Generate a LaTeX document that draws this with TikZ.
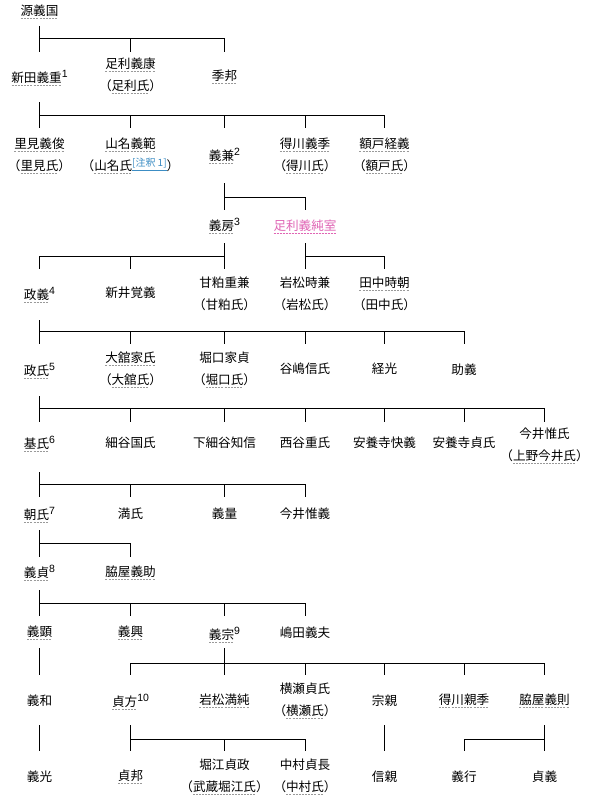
\documentclass[tikz,border=0pt]{standalone}
\usepackage{fontspec}
\setmainfont{Noto Sans CJK JP}
\newfontfamily\supfont{Liberation Sans}
\definecolor{ulg}{HTML}{9A9A9A}
\definecolor{pinkc}{HTML}{E065B5}
\definecolor{linkc}{HTML}{3C8DC4}
\newsavebox\ulbox
\newcommand\ul[2][ulg]{\sbox\ulbox{#2}\leavevmode\rlap{\usebox\ulbox}\raisebox{-3.2pt}{\color{#1}\hbox to \wd\ulbox{\xleaders\hbox to 3pt{\rule{2pt}{0.7pt}\hfil}\hfill}}}
\newcommand\sps[1]{\smash{\raisebox{5pt}{\fontsize{10.5}{10.5}\selectfont\supfont #1}}}
\newcommand\note[1]{\smash{\raisebox{3.5pt}{\fontsize{10}{10}\selectfont\color{linkc}\underline{#1}}}}
\newcommand\famline[7]{%
  \draw[conn] (#1 |- 0,#2) -- (#1 |- 0,#3) (#5 |- 0,#3) -- (#6 |- 0,#3);
  \foreach \cc in {#7}{\draw[conn] (\cc |- 0,#3) -- (\cc |- 0,#4);}}
\begin{document}
\begin{tikzpicture}[x=1pt,y=-1pt,
  nm/.style={inner sep=0pt, align=center, font=\fontsize{12.6}{22}\selectfont},
  conn/.style={draw=black, line width=1pt}]
\useasboundingbox[fill=white] (0,0) rectangle (597,800);
\def\ca{39.5}\def\cb{130.5}\def\cc{224.5}\def\cd{305}\def\ce{384.5}\def\cf{464}\def\cg{544.5}
% row 0
\node[nm] (n00) at (\ca,12) {\ul{源義国}};
% row 1
\node[nm] (n10) at (\ca,79) {\ul{新田義重}\sps{1}};
\node[nm] (n11) at (\cb,76) {\ul{足利義康}\\（\ul{足利氏}）};
\node[nm] (n12) at (\cc,77) {\ul{季邦}};
% row 2
\node[nm] (n20) at (\ca,155.5) {\ul{里見義俊}\\（\ul{里見氏}）};
\node[nm] (n21) at (\cb,155.5) {\ul{山名義範}\\（\ul{山名氏}\note{[注釈 1]}）};
\node[nm] (n22) at (\cc,157) {\ul{義兼}\sps{2}};
\node[nm] (n23) at (\cd,155.5) {\ul{得川義季}\\（\ul{得川氏}）};
\node[nm] (n24) at (\ce,155.5) {\ul{額戸経義}\\（\ul{額戸氏}）};
% row 3
\node[nm] (n30) at (\cc,227) {\ul{義房}\sps{3}};
\node[nm, text=pinkc] (n31) at (\cd,227) {\ul[pinkc]{足利義純室}};
% row 4
\node[nm] (n40) at (\ca,296) {\ul{政義}\sps{4}};
\node[nm] (n41) at (\cb,293) {新井覚義};
\node[nm] (n42) at (\cc,294) {甘粕重兼\\（甘粕氏）};
\node[nm] (n43) at (\cd,294) {岩松時兼\\（岩松氏）};
\node[nm] (n44) at (\ce,294) {\ul{田中時朝}\\（田中氏）};
% row 5
\node[nm] (n50) at (\ca,372) {\ul{政氏}\sps{5}};
\node[nm] (n51) at (\cb,370) {\ul{大舘家氏}\\（\ul{大舘氏}）};
\node[nm] (n52) at (\cc,370) {堀口家貞\\（\ul{堀口氏}）};
\node[nm] (n53) at (\cd,369) {谷嶋信氏};
\node[nm] (n54) at (\ce,369) {経光};
\node[nm] (n55) at (\cf,370) {助義};
% row 6
\node[nm] (n60) at (\ca,445) {\ul{基氏}\sps{6}};
\node[nm] (n61) at (\cb,443) {細谷国氏};
\node[nm] (n62) at (\cc,443) {下細谷知信};
\node[nm] (n63) at (\cd,443) {西谷重氏};
\node[nm] (n64) at (\ce,443) {安養寺快義};
\node[nm] (n65) at (\cf,443) {安養寺貞氏};
\node[nm] (n66) at (\cg,446) {今井惟氏\\（\ul{上野今井氏}）};
% row 7
\node[nm] (n70) at (\ca,516) {\ul{朝氏}\sps{7}};
\node[nm] (n71) at (\cb,514) {満氏};
\node[nm] (n72) at (\cc,514) {義量};
\node[nm] (n73) at (\cd,514) {今井惟義};
% row 8
\node[nm] (n80) at (\ca,574) {\ul{義貞}\sps{8}};
\node[nm] (n81) at (\cb,573) {\ul{脇屋義助}};
% row 9
\node[nm] (n90) at (\ca,633) {\ul{義顕}};
\node[nm] (n91) at (\cb,633) {\ul{義興}};
\node[nm] (n92) at (\cc,636) {\ul{義宗}\sps{9}};
\node[nm] (n93) at (\cd,633) {嶋田義夫};
% row 10
\node[nm] (m0) at (\ca,701) {義和};
\node[nm] (m1) at (\cb,703) {\ul{貞方}\sps{10}};
\node[nm] (m2) at (\cc,701) {\ul{岩松満純}};
\node[nm] (m3) at (\cd,700.5) {横瀬貞氏\\（\ul{横瀬氏}）};
\node[nm] (m4) at (\ce,701) {宗親};
\node[nm] (m5) at (\cf,701) {\ul{得川親季}};
\node[nm] (m6) at (\cg,701) {\ul{脇屋義則}};
% row 11
\node[nm] (k0) at (\ca,777) {義光};
\node[nm] (k1) at (\cb,777) {\ul{貞邦}};
\node[nm] (k2) at (\cc,777) {堀江貞政\\（\ul{武蔵堀江氏}）};
\node[nm] (k3) at (\cd,777) {中村貞長\\（\ul{中村氏}）};
\node[nm] (k4) at (\ce,777) {信親};
\node[nm] (k5) at (\cf,777) {義行};
\node[nm] (k6) at (\cg,777) {貞義};
% connectors
\famline{n00}{26}{39}{52}{n10}{n12}{n10,n11,n12}
\famline{n10}{102}{115}{128}{n20}{n24}{n20,n21,n22,n23,n24}
\famline{n22}{183}{197}{210}{n30}{n31}{n30,n31}
\famline{n30}{243}{256}{269}{n40}{n42}{n40,n41,n42}
\famline{n31}{243}{256}{269}{n43}{n44}{n43,n44}
\famline{n40}{320}{331}{344}{n50}{n55}{n50,n51,n52,n53,n54,n55}
\famline{n50}{396}{408}{422}{n60}{n66}{n60,n61,n62,n63,n64,n65,n66}
\famline{n60}{472}{484}{497}{n70}{n73}{n70,n71,n72,n73}
\famline{n70}{530}{543}{557}{n80}{n81}{n80,n81}
\famline{n80}{590}{603}{616}{n90}{n93}{n90,n91,n92,n93}
\draw[conn] (n90 |- 0,648) -- (m0 |- 0,675);
\famline{n92}{648}{663}{675}{m1}{m6}{m1,m2,m3,m4,m5,m6}
\draw[conn] (m0 |- 0,725) -- (k0 |- 0,751);
\famline{m1}{725}{739}{751}{k1}{k3}{k1,k2,k3}
\draw[conn] (m4 |- 0,725) -- (k4 |- 0,751);
\famline{m6}{725}{739}{751}{k5}{k6}{k5,k6}
\end{tikzpicture}
\end{document}
